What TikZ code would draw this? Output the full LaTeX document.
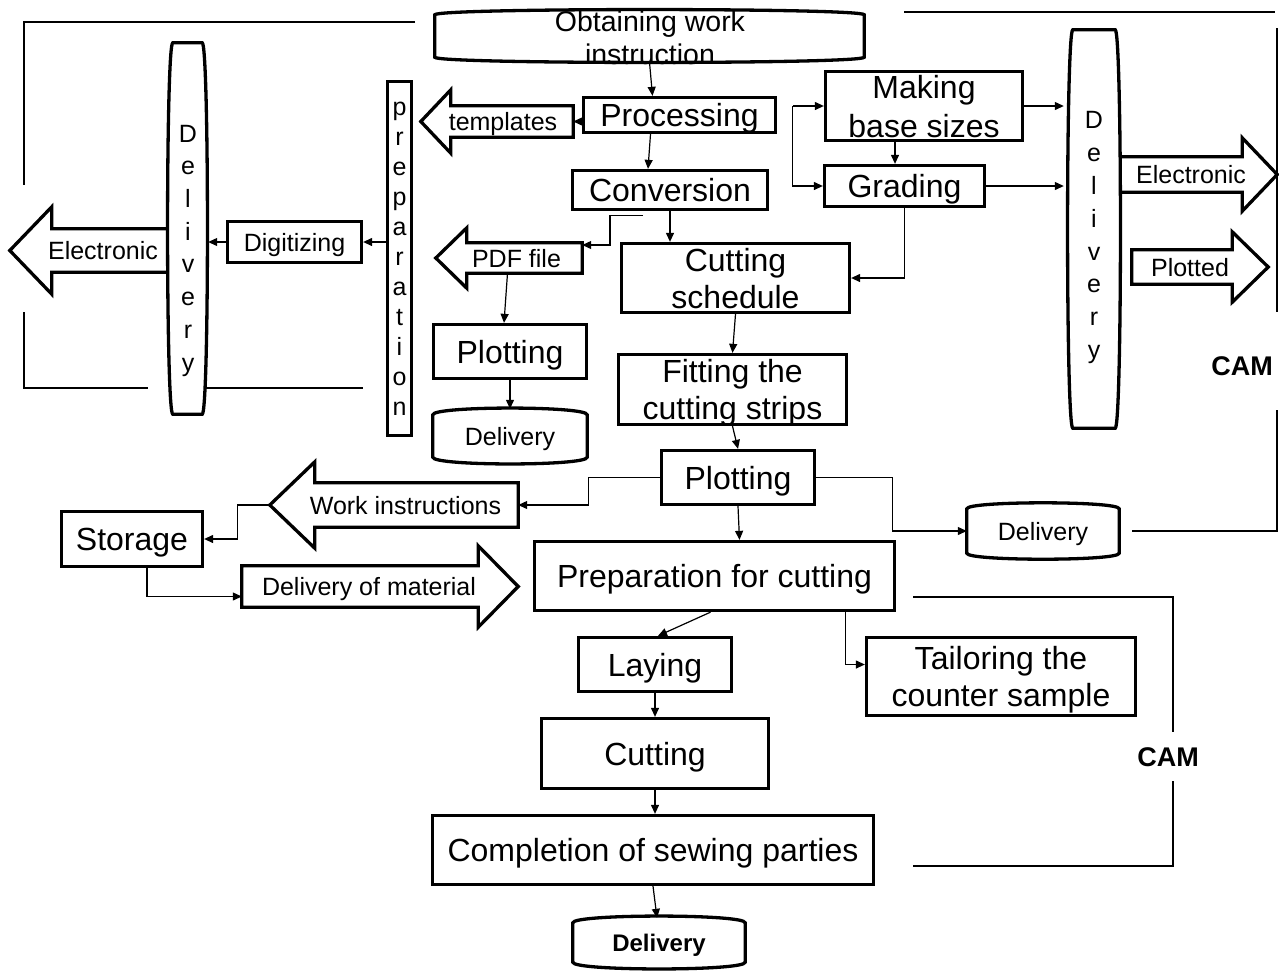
\documentclass[tikz,border=0pt]{standalone}
\usepackage{fontspec}
\setmainfont{Liberation Sans}
\usepackage{xcolor}
\usepackage{tikz}
\usetikzlibrary{arrows.meta,calc}

% outline of a flat "drum" node (bulging top and bottom)
\newcommand\drumline[2]{\draw[outl] (#1.north west) .. controls ($(#1.north west)+(0,-#2)$) and ($(#1.north east)+(0,-#2)$) .. (#1.north east) -- (#1.south east) .. controls ($(#1.south east)+(0,#2)$) and ($(#1.south west)+(0,#2)$) .. (#1.south west) -- cycle;}
% outline of a tall oval node (bulging sides)
\newcommand\ovalline[2]{\draw[outl] (#1.north west) -- (#1.north east) .. controls ($(#1.north east)+(#2,0)$) and ($(#1.south east)+(#2,0)$) .. (#1.south east) -- (#1.south west) .. controls ($(#1.south west)+(-#2,0)$) and ($(#1.north west)+(-#2,0)$) .. (#1.north west) -- cycle;}
% block arrows round a body node: name, head extension, tip length
\newcommand\blkleft[3]{\draw[outl] (#1.north east) -- (#1.north west) -- ++(0,-#2) -- ($(#1.west)+(-#3,0)$) -- ($(#1.south west)+(0,#2)$) -- (#1.south west) -- (#1.south east) -- cycle;}
\newcommand\blkright[3]{\draw[outl] (#1.north west) -- (#1.north east) -- ++(0,-#2) -- ($(#1.east)+(#3,0)$) -- ($(#1.south east)+(0,#2)$) -- (#1.south east) -- (#1.south west) -- cycle;}

\begin{document}
\begin{tikzpicture}[x=1pt,y=-1pt,
  box/.style={draw,line width=3.3pt,inner sep=0pt,text depth=0pt,align=center,font=\fontsize{32}{37}\selectfont},
  small/.style={inner sep=0pt,text depth=0pt,align=center,font=\fontsize{25}{28}\selectfont},
  arr/.style={-{Triangle[length=9pt,width=8pt]},line width=1.2pt},
  outl/.style={line width=3.3pt,line join=miter},
  brk/.style={line width=2pt}]
  \useasboundingbox (0,0) rectangle (1279,970);

  % main column
  \node[small,minimum width=429pt,minimum height=42pt] (obtain) at (649.5,36) {};
  \drumline{obtain}{7}
  \node[small,font=\fontsize{28.5}{33}\selectfont] (obtainTxt) at (650,38) {Obtaining work\\instruction};
  \node[box,minimum width=192pt,minimum height=35pt] (proc) at (679.5,115) {Processing};
  \node[box,minimum width=195pt,minimum height=39pt] (conv) at (670,190) {Conversion};
  \node[box,minimum width=228pt,minimum height=69pt] (sched) at (735.5,278) {Cutting\\schedule};
  \node[box,minimum width=228pt,minimum height=70pt] (fit) at (732.5,389.5) {Fitting the\\cutting strips};
  \node[box,minimum width=153pt,minimum height=54pt] (plotM) at (738,477.5) {Plotting};
  \node[box,minimum width=360pt,minimum height=69pt] (prep) at (714.5,576) {Preparation for cutting};
  \node[box,minimum width=153pt,minimum height=54pt] (lay) at (655,664.5) {Laying};
  \node[box,minimum width=269pt,minimum height=78pt] (tailor) at (1001,676.5) {Tailoring the\\counter sample};
  \node[box,minimum width=227pt,minimum height=70pt] (cut) at (655,753.5) {Cutting};
  \node[box,minimum width=441pt,minimum height=69pt] (compl) at (653,850) {Completion of sewing parties};
  \node[small,minimum width=172pt,minimum height=39pt,font=\fontsize{24}{28}\selectfont\bfseries] (delivB) at (659,942.5) {Delivery};
  \drumline{delivB}{9}

  % left branch
  \node[small,minimum width=122pt,minimum height=31pt,label={[small,xshift=-9pt]center:templates}] (tmpl) at (512,121.5) {};
  \blkleft{tmpl}{16}{30}
  \node[small,minimum width=115pt,minimum height=30pt,label={[small,xshift=-8pt]center:PDF file}] (pdf) at (524.5,258) {};
  \blkleft{pdf}{15}{31}
  \node[box,minimum width=153pt,minimum height=54pt] (plotL) at (510,351.5) {Plotting};
  \node[small,minimum width=154pt,minimum height=42pt] (delivL) at (510,436) {Delivery};
  \drumline{delivL}{9}
  \node[box,line width=3pt,minimum width=24pt,minimum height=354pt,font=\fontsize{25}{30}\selectfont] (prepv) at (399.5,258.5) {p\\r\\e\\p\\a\\r\\a\\t\\i\\o\\n};
  \node[box,minimum width=134pt,minimum height=41pt,font=\fontsize{25}{28}\selectfont] (digit) at (294.5,242) {Digitizing};
  \node[small,minimum width=29pt,minimum height=371pt] (vdL) at (187.5,228.5) {};
  \ovalline{vdL}{7}
  \node[small,font=\fontsize{25}{32.7}\selectfont] (vdLtxt) at (188,248) {D\\e\\l\\i\\v\\e\\r\\y};
  \node[small,minimum width=116pt,minimum height=43pt,label={[small,xshift=-7pt]center:Electronic}] (elecL) at (110,250.5) {};
  \draw[outl] ([xshift=-2pt]elecL.north east) -- (elecL.north west) -- ++(0,-22) -- ($(elecL.west)+(-42,0)$)
    -- ($(elecL.south west)+(0,22)$) -- (elecL.south west) -- ([xshift=-2pt]elecL.south east);

  % lower left
  \node[small,minimum width=203pt,minimum height=44pt,label={[small,xshift=-11pt]center:Work instructions}] (wi) at (416.5,505) {};
  \blkleft{wi}{21}{45}
  \coordinate (wiTip) at ($(wi.west)+(-45,0)$);
  \node[box,minimum width=141pt,minimum height=55pt] (store) at (132,539) {Storage};
  \node[small,minimum width=236pt,minimum height=41pt,label={[small,xshift=9pt]center:Delivery of material}] (dom) at (360,586.5) {};
  \blkright{dom}{20}{40}

  % right branch
  \node[box,minimum width=197pt,minimum height=69pt,font=\fontsize{32}{39}\selectfont] (make) at (924,106) {Making\\base sizes};
  \node[box,minimum width=160pt,minimum height=41pt] (grade) at (904.5,186) {Grading};
  \node[small,minimum width=42pt,minimum height=398pt] (vdR) at (1094,229) {};
  \ovalline{vdR}{7}
  \node[small,font=\fontsize{25}{32.8}\selectfont] (vdRtxt) at (1094,235) {D\\e\\l\\i\\v\\e\\r\\y};
  \node[small,minimum width=122pt,minimum height=35pt,label={[small,xshift=10pt]center:Electronic}] (elecR) at (1181,174.5) {};
  \draw[outl] ([xshift=2pt]elecR.north west) -- (elecR.north east) -- ++(0,-19) -- ($(elecR.east)+(35,0)$)
    -- ($(elecR.south east)+(0,19)$) -- (elecR.south east) -- ([xshift=2pt]elecR.south west);
  \node[small,minimum width=100pt,minimum height=34pt,label={[small,xshift=8pt]center:Plotted}] (plotd) at (1182,267) {};
  \blkright{plotd}{18}{36}
  \node[small,minimum width=152pt,minimum height=44pt] (delivR) at (1043,531) {Delivery};
  \drumline{delivR}{8}

  % connectors
  \draw[arr] ([yshift=-5pt]obtain.south) -- ([xshift=-27pt]proc.north);
  \draw[arr] (proc.west |- tmpl.east) -- (tmpl.east);
  \draw[arr] ([xshift=-29pt]proc.south) -- ([xshift=-22pt]conv.north);
  \draw[arr] ([xshift=-27pt,yshift=-4pt]conv.south) -- ++(-33,0) |- ([yshift=13pt]pdf.east);
  \draw[arr] (conv.south) -- (conv.south |- sched.north);
  \draw[arr] ([xshift=-17pt]pdf.south) -- ([xshift=-6pt]plotL.north);
  \draw[arr] (plotL.south) -- ([yshift=6pt]delivL.north);
  \draw[arr] (sched.south) -- (fit.north);
  \draw[arr] (fit.south) -- (plotM.north);
  \draw[arr] (plotM.south) -- ([xshift=25pt]prep.north);
  \draw[arr] (plotM.west) -- ++(-71,0) |- (wi.east);
  \draw[arr] (wiTip) -- ++(-32,0) |- (store.east);
  \draw[arr] ([xshift=15pt]store.south) |- ([yshift=-10pt]dom.west);
  \draw[arr] (plotM.east) -- ++(76,0) |- (delivR.west);
  \draw[arr] ([xshift=-4pt]prep.south) -- ([xshift=3pt]lay.north);
  \draw[arr] ([xshift=131pt]prep.south) |- ([yshift=12pt]tailor.west);
  \draw[arr] (lay.south) -- (cut.north);
  \draw[arr] (cut.south) -- (cut.south |- compl.north);
  \draw[arr] (compl.south) -- ([xshift=-2pt,yshift=5pt]delivB.north);
  \draw[arr] ([xshift=-29pt]make.south) -- ([xshift=-29pt]make.south |- grade.north);
  \draw[arr] ([xshift=-31pt]make.west) -- (make.west);
  \draw[arr] ([xshift=-31pt]make.west) |- (grade.west);
  \draw[arr] (make.east) -- ([xshift=-9pt]vdR.west |- make.east);
  \draw[arr] (grade.east) -- ([xshift=-9pt]vdR.west |- grade.east);
  \draw[arr] (grade.south) |- (sched.east);
  \draw[arr] (prepv.west |- digit.east) -- (digit.east);
  \draw[arr] (digit.west) -- ([xshift=6pt]vdL.east |- digit.west);

  % CAM brackets
  \draw[brk] (415,22) -- (24,22) -- (24,185);
  \draw[brk] (24,312) -- (24,388) -- (148,388);
  \draw[brk] (205,388) -- (363,388);
  \draw[brk] (904,12) -- (1275,12);
  \draw[brk] (1277,28) -- (1277,312);
  \draw[brk] (1277,410) -- (1277,531) -- (1132,531);
  \node[small,font=\fontsize{27}{30}\selectfont\bfseries] (camR) at (1242,366) {CAM};
  \draw[brk] (913,597) -- (1173,597) -- (1173,732);
  \draw[brk] (1173,781) -- (1173,866) -- (913,866);
  \node[small,font=\fontsize{27}{30}\selectfont\bfseries] (camB) at (1168,757) {CAM};
\end{tikzpicture}
\end{document}
